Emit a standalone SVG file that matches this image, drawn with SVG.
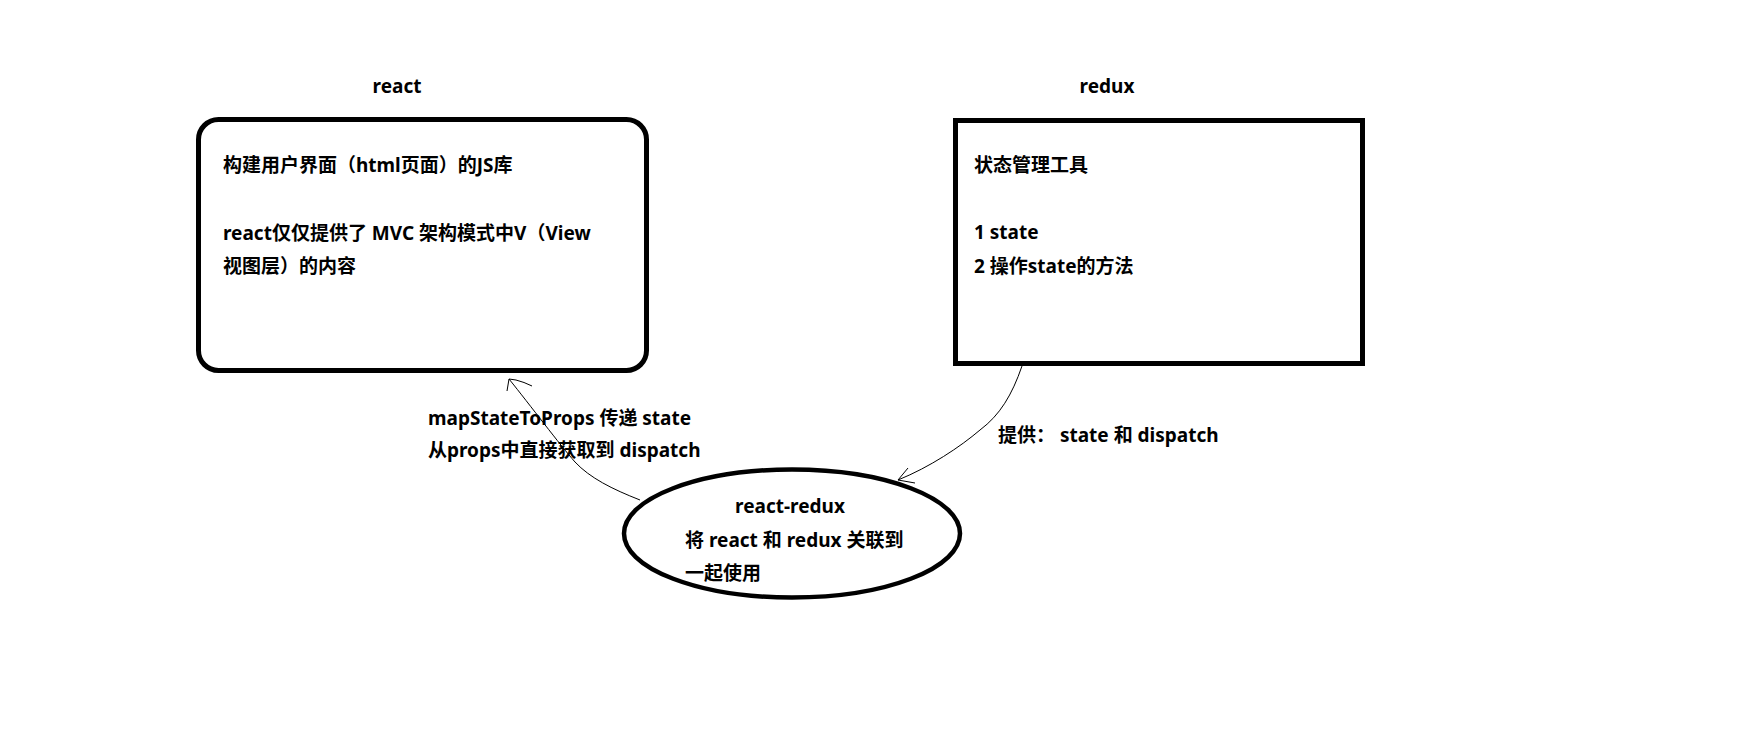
<svg xmlns="http://www.w3.org/2000/svg" width="1740" height="732" viewBox="0 0 1740 732">
<style>
text{font-family:"Noto Sans","Noto Sans CJK SC",sans-serif;font-weight:bold;font-size:19px;fill:#000}
.box{fill:#fff;stroke:#000;stroke-width:5}
.conn{fill:none;stroke:#000;stroke-width:1}
</style>
<rect width="1740" height="732" fill="#fff"/>
<g id="react">
<text x="397" y="93" text-anchor="middle">react</text>
<rect class="box" x="198.5" y="119.5" width="448" height="251" rx="20"/>
<text x="223" y="172">构建用户界面（html页面）的JS库</text>
<text x="223" y="240">react仅仅提供了 MVC 架构模式中V（View</text>
<text x="223" y="273">视图层）的内容</text>
</g>
<g id="redux">
<text x="1107" y="93" text-anchor="middle">redux</text>
<rect class="box" x="955.5" y="120.5" width="407" height="243"/>
<text x="974" y="172">状态管理工具</text>
<text x="974" y="239">1 state</text>
<text x="974" y="273">2 操作state的方法</text>
</g>
<g id="react-redux">
<ellipse cx="792" cy="533.5" rx="168" ry="64" fill="#fff" stroke="#000" stroke-width="4.5"/>
<text x="790" y="513" text-anchor="middle">react-redux</text>
<text x="685" y="547">将 react 和 redux 关联到</text>
<text x="685" y="580">一起使用</text>
</g>
<g id="connectors">
<path class="conn" d="M640,500 C612,489 590,478 575,462 C560,445 530,405 509,379"/>
<path class="conn" d="M507,391 L509,379 L516,380 Q524,382 532,386"/>
<path class="conn" d="M1022,366 C1012,395 1000,415 980,430 C960,447 930,467 898,480"/>
<path class="conn" d="M908,468 L898,480 L915,483"/>
<text x="428" y="425">mapStateToProps 传递 state</text>
<text x="428" y="457">从props中直接获取到 dispatch</text>
<text x="998" y="442">提供：  state 和 dispatch</text>
</g>
</svg>
